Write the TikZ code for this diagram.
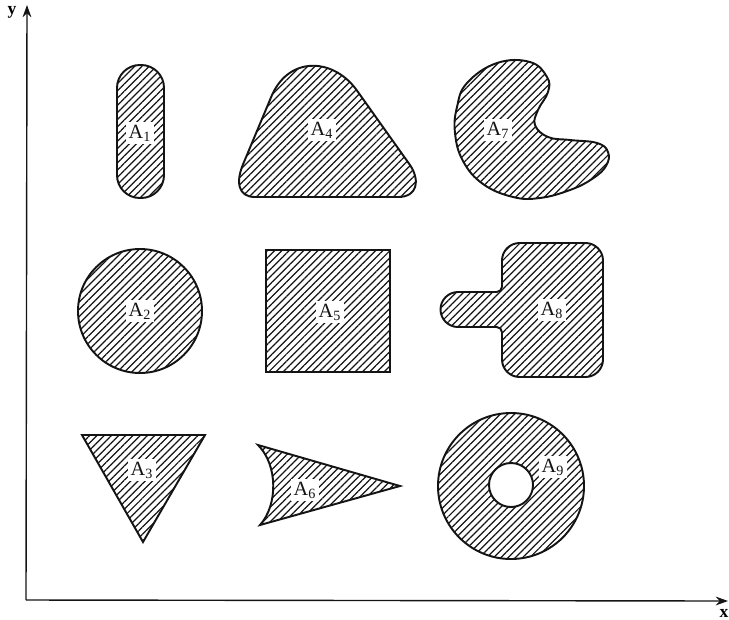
\documentclass[tikz,border=0pt]{standalone}
\usepackage{fontspec}
\setmainfont{Liberation Serif}
\usepackage{tikz}
\usetikzlibrary{arrows.meta,patterns.meta,positioning}
\definecolor{InkBlack}{RGB}{20, 20, 20}

\begin{document}
\begin{tikzpicture}[x=0.02cm, y=-0.02cm,
    region/.style={draw=InkBlack, line width=1.1pt,
      pattern={Lines[angle=45, distance=2.9pt, line width=0.7pt]}, pattern color=InkBlack},
    axis/.style={draw=InkBlack, line width=0.8pt, -{Stealth[length=7pt, width=5pt]}},
    lab/.style={fill=white, inner sep=1.5pt, text=InkBlack, font=\fontsize{11.5}{13}\selectfont}]
    \useasboundingbox (0,0) rectangle (729,619);

    % axes
    \coordinate (origin) at (26,600);
    \coordinate (ytop) at (27,5);
    \coordinate (xend) at (728,601);
    \draw[axis] (origin) -- (ytop);
    \draw[axis] (origin) -- (xend);
    \node[font=\bfseries] (ylab) at (12,12) {y};
    \node[font=\bfseries] (xlab) at (724,613) {x};

    % top row
    \draw[region, rounded corners=13pt] (117,65) rectangle (164,198);
    \draw[region] (255,197) -- (398,197) .. controls (418,197) and (420,180) .. (410,165)
      -- (358,92) .. controls (335,58) and (290,55) .. (272,95)
      -- (244,162) .. controls (235,182) and (238,197) .. (255,197) -- cycle;
    \draw[region] plot[smooth cycle, tension=0.7] coordinates {
      (547,77) (548,92) (538,110) (535,125) (548,137) (570,140) (597,143) (608,152)
      (606,166) (592,179) (570,190) (540,198) (513,197) (483,184) (463,161)
      (455,133) (457,107) (467,83) (497,63) (530,62)};

    % middle row
    \draw[region] (140,311) circle[radius=62];
    \draw[region] (266,250) rectangle (390,372);
    \draw[region] (480,292) [rounded corners=3pt] -- (502,292) [rounded corners=10pt]
      -- (502,243) -- (603,243) -- (603,377) -- (502,377) [rounded corners=3pt]
      -- (502,327) [sharp corners] -- (458,327)
      arc[start angle=90, end angle=270, radius=17.5] -- cycle;

    % bottom row
    \draw[region] (82,435) -- (205,435) -- (143,542) -- cycle;
    \draw[region] (258,445) -- (400,486) -- (260,525)
      .. controls (278,505) and (278,465) .. (258,445) -- cycle;
    \draw[region, even odd rule] (511,486) circle[radius=73] (511,485) circle[radius=22];

    % labels
    \foreach \n/\px/\py in {1/140/133, 2/140/311, 3/142/470, 4/322/130, 5/330/312,
                            6/305/490, 7/498/130, 8/552/310, 9/553/467}
      \node[lab] (a\n) at (\px,\py) {A\textsubscript{\n}};
\end{tikzpicture}
\end{document}
